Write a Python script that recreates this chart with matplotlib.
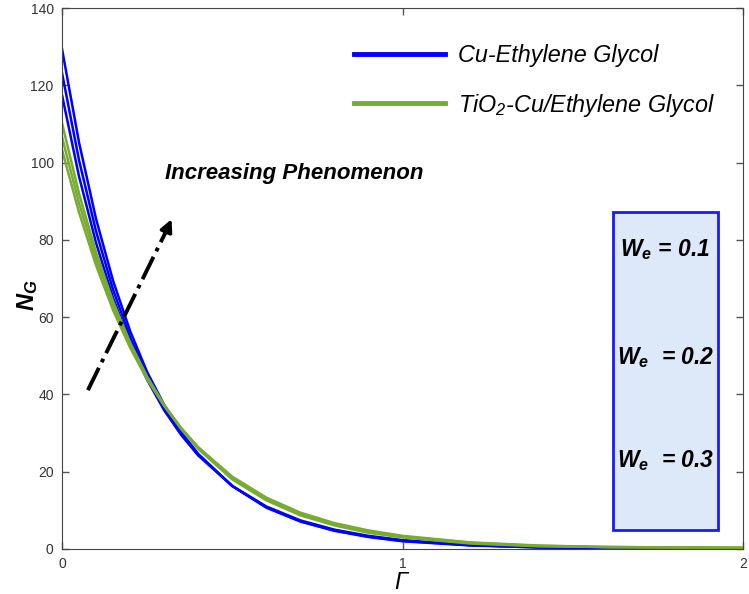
import numpy as np
import matplotlib
matplotlib.use('Agg')
import matplotlib.pyplot as plt
from matplotlib.patches import Rectangle

plt.rcParams['font.family'] = ['Liberation Sans', 'DejaVu Sans']
plt.rcParams['mathtext.fontset'] = 'custom'
plt.rcParams['mathtext.rm'] = 'Liberation Sans:italic'
plt.rcParams['mathtext.it'] = 'Liberation Sans:italic'
plt.rcParams['mathtext.bf'] = 'Liberation Sans:italic:bold'

# values
gamma = [0, 0.05, 0.1, 0.15, 0.2, 0.25, 0.3, 0.35, 0.4, 0.5,
         0.6, 0.7, 0.8, 0.9, 1.0, 1.2, 1.4, 1.6, 1.8, 2.0]

cu_eg = [
    [129.4, 105.2, 85.4, 69.4, 56.4, 45.8, 37.3, 30.3, 24.6, 16.3,
     10.7, 7.1, 4.7, 3.1, 2.0, 0.9, 0.4, 0.2, 0.1, 0.0],
    [123.2, 100.6, 82.2, 67.1, 54.8, 44.8, 36.6, 29.9, 24.4, 16.3,
     10.8, 7.2, 4.8, 3.2, 2.1, 1.0, 0.4, 0.2, 0.1, 0.0],
    [117.5, 96.4, 79.2, 65.0, 53.3, 43.8, 35.9, 29.5, 24.2, 16.3,
     11.0, 7.4, 5.0, 3.4, 2.3, 1.0, 0.5, 0.2, 0.1, 0.0],
]
tio2_cu_eg = [
    [110.2, 92.0, 76.7, 64.0, 53.4, 44.6, 37.2, 31.0, 25.9, 18.0,
     12.6, 8.7, 6.1, 4.2, 3.0, 1.4, 0.7, 0.5, 0.4, 0.3],
    [106.6, 89.5, 75.1, 63.1, 52.9, 44.4, 37.3, 31.3, 26.3, 18.5,
     13.1, 9.2, 6.5, 4.6, 3.2, 1.6, 0.8, 0.5, 0.4, 0.3],
    [103.3, 87.1, 73.4, 61.8, 52.1, 43.9, 37.0, 31.2, 26.3, 18.7,
     13.3, 9.4, 6.7, 4.8, 3.4, 1.7, 0.9, 0.5, 0.4, 0.3],
]
we_labels = ['0.1', '0.2', '0.3']

blue = '#0000ff'
green = '#77ac30'

fig = plt.figure(figsize=(7.49, 5.94), dpi=100)
ax = fig.add_axes([0.0828, 0.0758, 0.9092, 0.9107])

for i, y in enumerate(cu_eg):
    ax.plot(gamma, y, color=blue, lw=1.8,
            label='Cu-Ethylene Glycol' if i == 0 else None)
for i, y in enumerate(tio2_cu_eg):
    ax.plot(gamma, y, color=green, lw=1.8,
            label='TiO$_2$-Cu/Ethylene Glycol' if i == 0 else None)

ax.set_xlim(0, 2)
ax.set_ylim(0, 140)
ax.set_xticks([0, 1, 2])
ax.set_yticks(np.arange(0, 141, 20))
ax.tick_params(direction='in', length=5, width=1, colors='#555555',
               labelcolor='#333333', labelsize=10, top=True, right=True, pad=6)
for t in ax.get_xticklabels() + ax.get_yticklabels():
    t.set_family(['Liberation Sans Narrow', 'Liberation Sans'])
for s in ax.spines.values():
    s.set_color('#444444')

ax.set_xlabel(r'$\Gamma$', fontsize=17, family='Liberation Serif', labelpad=1)
ax.text(-0.05, 0.47, r'$\mathbf{N_G}$', transform=ax.transAxes, rotation=90,
        fontsize=17, ha='center', va='center')

leg = ax.legend(loc='upper left', bbox_to_anchor=(0.398, 0.972), frameon=False,
                fontsize=16.8, handlelength=3.9, handletextpad=0.55,
                labelspacing=1.05)
for line in leg.get_lines():
    line.set_linewidth(3.5)
for t in leg.get_texts():
    t.set_style('italic')

# arrow showing increasing trend
ax.plot([0.076, 0.310], [41.1, 83.0], color='black', lw=2.8, ls='-.')
ax.annotate('', xy=(0.325, 86.0), xytext=(0.300, 81.0),
            arrowprops=dict(arrowstyle='-|>', color='black', lw=2.5,
                            mutation_scale=18))
ax.text(0.302, 97.3, 'Increasing Phenomenon', fontsize=16,
        fontweight='bold', style='italic', va='center')

# box with We values
ax.add_patch(Rectangle((1.618, 4.9), 0.309, 82.3, facecolor='#dde9f8',
                       edgecolor='#1a1aff', lw=2, zorder=3))
gaps = [' ', '  ', '  ']
for lab, gap, yv in zip(we_labels, gaps, [77.5, 49.5, 23.0]):
    ax.text(1.772, yv, r'$\mathbf{W_e}$' + gap + '= ' + lab, fontsize=16.5,
            fontweight='bold', style='italic', ha='center', va='center',
            zorder=4)

fig.savefig('out.png', dpi=100)
